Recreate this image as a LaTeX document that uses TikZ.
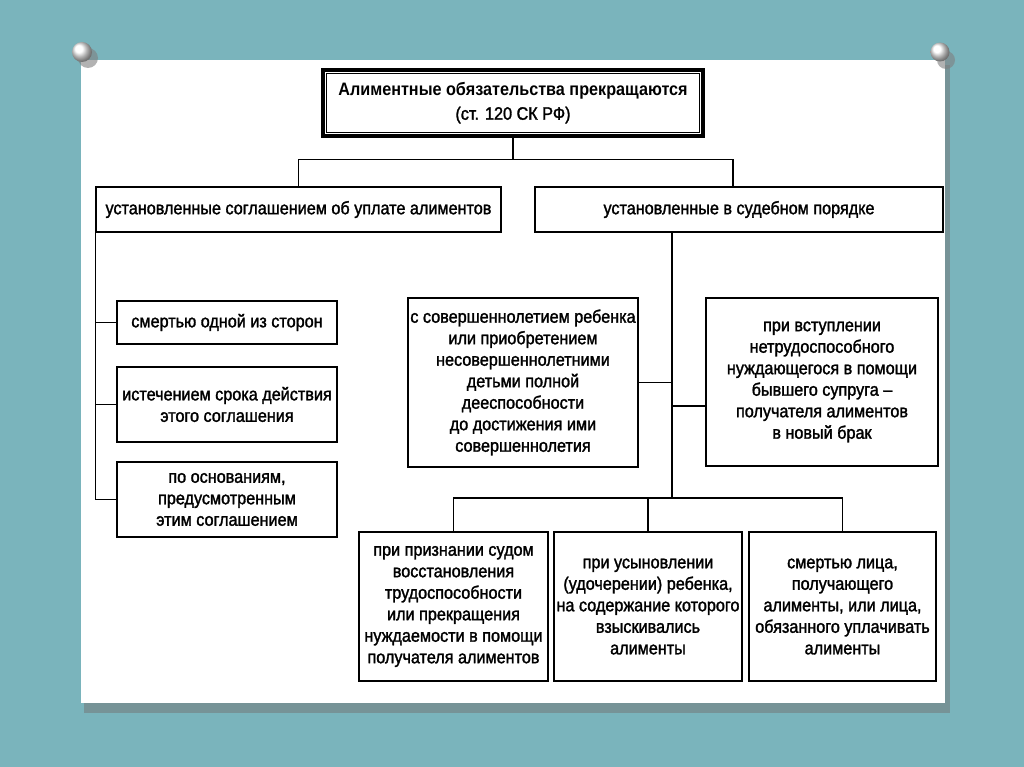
\documentclass[tikz,border=0pt]{standalone}
\usepackage{fontspec}
\setmainfont[FakeStretch=0.9,UprightFeatures={FakeBold=1.6}]{Liberation Sans}
\usetikzlibrary{calc}
\definecolor{bgteal}{RGB}{122,180,188}
\begin{document}
\begin{tikzpicture}[x=1pt,y=-1pt,
  box/.style={draw, line width=1.4pt, align=center, inner sep=0pt,
    font=\fontsize{18}{21.5}\selectfont},
  conn/.style={line width=1.3pt},
  pin/.style={ball color=white, draw=none}]
\useasboundingbox (0,0) rectangle (1024,767);
\fill[bgteal] (0,0) rectangle (1024,767);
% panel shadow and panel
\fill[black!55, opacity=0.5] (84,65) rectangle (950,713);
\fill[white] (81,60) rectangle (945,703);
% pins
\fill[black!50, opacity=0.6] (88,58) circle (10);
\shade[pin] (82,52) circle (10);
\fill[black!50, opacity=0.6] (946,60) circle (9);
\shade[pin] (940,52) circle (9.5);

% title
\node[draw, line width=3.5pt, minimum width=380, minimum height=66, align=center,
  inner sep=0pt, font=\fontsize{18}{24}\selectfont] (title) at (513,103)
  {\textbf{Алиментные обязательства прекращаются}\\(ст. 120 СК РФ)};
\draw[line width=1.2pt] ([xshift=5pt,yshift=-5pt]title.north west) rectangle ([xshift=-5pt,yshift=5pt]title.south east);

% second level
\node[box, minimum width=405, minimum height=45] (agree) at (298.5,209.5)
  {установленные соглашением об уплате алиментов};
\node[box, minimum width=408, minimum height=45] (court) at (739,209.5)
  {установленные в судебном порядке};

% left branch
\node[box, minimum width=220, minimum height=43] (s1) at (227,322.5)
  {смертью одной из сторон};
\node[box, minimum width=220, minimum height=75] (s2) at (227,404.5)
  {истечением срока действия\\этого соглашения};
\node[box, minimum width=220, minimum height=75] (s3) at (227,499.5)
  {по основаниям,\\предусмотренным\\этим соглашением};

% court branch
\node[box, minimum width=230, minimum height=169] (m1) at (523,382.5)
  {с совершеннолетием ребенка\\или приобретением\\несовершеннолетними\\детьми полной\\дееспособности\\до достижения ими\\совершеннолетия};
\node[box, minimum width=232, minimum height=168] (m2) at (822,382)
  {при вступлении\\нетрудоспособного\\нуждающегося в помощи\\бывшего супруга –\\получателя алиментов\\в новый брак};

\node[box, minimum width=189, minimum height=149] (b1) at (453.5,606.5)
  {при признании судом\\восстановления\\трудоспособности\\или прекращения\\нуждаемости в помощи\\получателя алиментов};
\node[box, minimum width=188, minimum height=149] (b2) at (648,606.5)
  {при усыновлении\\(удочерении) ребенка,\\на содержание которого\\взыскивались\\алименты};
\node[box, minimum width=187, minimum height=149] (b3) at (842.5,606.5)
  {смертью лица,\\получающего\\алименты, или лица,\\обязанного уплачивать\\алименты};

% connectors top
\coordinate (cr) at (733,187);
\draw[conn] (title.south) -- ++(0,22);
\draw[conn] (agree.north) -- ++(0,-27) -| (cr);
% left tree
\draw[conn] (agree.south west) -- (agree.south west |- s3.west) -- (s3.west);
\draw[conn] (agree.south west |- s1.west) -- (s1.west);
\draw[conn] (agree.south west |- s2.west) -- (s2.west);
% court tree
\coordinate (hub) at (672,498);
\draw[conn] (court.south -| hub) -- (hub);
\draw[conn] (m1.east) -- (m1.east -| hub);
\coordinate (m2c) at ($(m2.west)+(0,24)$);
\draw[conn] (m2c) -- (m2c -| hub);
\draw[conn] (b1.north) -- (b1.north |- hub) -- (b3.north |- hub) -- (b3.north);
\draw[conn] (b2.north) -- (b2.north |- hub);
\end{tikzpicture}
\end{document}
